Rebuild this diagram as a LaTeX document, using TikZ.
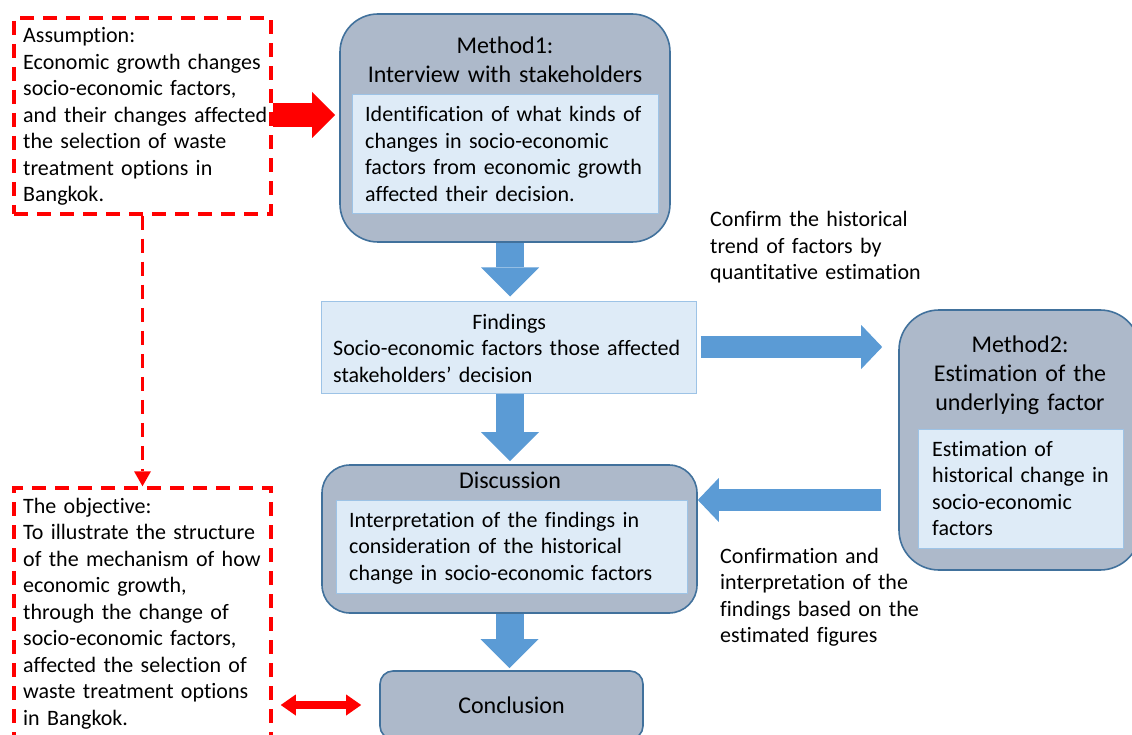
\documentclass[tikz,border=0pt]{standalone}
\usepackage{fontspec}
\setmainfont{Carlito}[Ligatures={CommonOff,ContextualOff}]
\usetikzlibrary{arrows.meta}
\definecolor{boxfill}{HTML}{ADB9CA}
\definecolor{boxline}{HTML}{41719C}
\definecolor{innerfill}{HTML}{DEEBF7}
\definecolor{innerline}{HTML}{9DC3E6}
\definecolor{flowblue}{HTML}{5B9BD5}

\begin{document}
\begin{tikzpicture}[x=1pt, y=-1pt,
		bigbox/.style={draw=boxline, fill=boxfill, line width=1.6pt},
		innerbox/.style={draw=innerline, fill=innerfill, line width=1pt},
		dashbox/.style={draw=red, line width=3.5pt, dash pattern=on 14pt off 9pt},
		bodytext/.style={font=\fontsize{22}{26.5}\selectfont, align=left, inner sep=0pt, anchor=base west, text width=380pt},
		titletext/.style={font=\fontsize{24}{29}\selectfont, align=center, inner sep=0pt, anchor=base, text width=320pt},
		downflow/.style={draw=flowblue, line width=28pt, -{Triangle[length=29pt, width=58pt, line width=0pt]}},
		sideflow/.style={draw=flowblue, line width=22pt, -{Triangle[length=21pt, width=44pt, line width=0pt]}},
		redflow/.style={draw=red, line width=24pt, -{Triangle[length=23pt, width=46pt, line width=0pt]}},
		redlink/.style={draw=red, line width=8pt, {Triangle[length=15pt, width=21pt, line width=0pt]}-{Triangle[length=15pt, width=21pt, line width=0pt]}},
		redpath/.style={draw=red, line width=3.5pt, dash pattern=on 14pt off 9pt, -{Triangle[length=15pt, width=17pt, line width=0pt]}}]
	\clip (0,0) rectangle (1132,735);

	\node[dashbox, minimum width=257pt, minimum height=196pt] (ass) at (142.5,116) {};
	\node[bodytext] (asstext) at (23,43) {Assumption:\\Economic growth changes\\socio-economic factors,\\and their changes affected\\the selection of waste\\treatment options in\\Bangkok.};

	\node[dashbox, minimum width=257pt, minimum height=254pt] (obj) at (142.5,615) {};
	\node[bodytext] (objtext) at (23,513) {The objective:\\To illustrate the structure\\of the mechanism of how\\economic growth,\\through the change of\\socio-economic factors,\\affected the selection of\\waste treatment options\\in Bangkok.};

	\node[bigbox, rounded corners=38pt, minimum width=330pt, minimum height=228pt] (m1) at (505,128) {};
	\node[titletext] (m1title) at (505,54) {Method1:\\Interview with stakeholders};
	\node[innerbox, minimum width=306pt, minimum height=119pt] (m1in) at (505,154.5) {};
	\node[bodytext] (m1text) at (365,122) {Identification of what kinds of\\changes in socio-economic\\factors from economic growth\\affected their decision.};

	\node[innerbox, minimum width=375pt, minimum height=92pt] (find) at (508.5,347) {};
	\node[bodytext, text width=352pt] (findtext) at (333,329) {\makebox[\linewidth]{Findings}\\Socio-economic factors those affected\\stakeholders’ decision};

	\node[bigbox, rounded corners=40pt, minimum width=241pt, minimum height=260pt] (m2) at (1019.5,440) {};
	\node[titletext, text width=230pt] (m2title) at (1020,352) {Method2:\\Estimation of the\\underlying factor};
	\node[innerbox, minimum width=205pt, minimum height=119pt] (m2in) at (1020.5,488.5) {};
	\node[bodytext] (m2text) at (932,456) {Estimation of\\historical change in\\socio-economic\\factors};

	\node[bigbox, rounded corners=28pt, minimum width=375pt, minimum height=148pt] (dis) at (509.5,539) {};
	\node[titletext] (distitle) at (510,488) {Discussion};
	\node[innerbox, minimum width=351pt, minimum height=93pt] (disin) at (511.5,546.5) {};
	\node[bodytext] (distext) at (349,527) {Interpretation of the findings in\\consideration of the historical\\change in socio-economic factors};

	\node[bigbox, rounded corners=13pt, minimum width=263pt, minimum height=68pt, font=\fontsize{24}{29}\selectfont] (con) at (511.5,705) {Conclusion};

	\node[bodytext] (confirm) at (710,227) {Confirm the historical\\trend of factors by\\quantitative estimation};
	\node[bodytext] (confirmation) at (720,563) {Confirmation and\\interpretation of the\\findings based on the\\estimated figures};

	\draw[redflow, shorten >=4pt] ([yshift=1pt]ass.east) -- ([yshift=1pt]ass.east -| m1.west);
	\draw[redpath] (ass.south) -- (obj.north);
	\draw[redlink, shorten <=8pt, shorten >=18pt] (con.west -| obj.east) -- (con.west);
	\draw[downflow, shorten >=4pt] ([xshift=5pt]m1.south) -- ([xshift=5pt]m1.south |- find.north);
	\draw[downflow, shorten >=3pt] ([xshift=1.5pt]find.south) -- ([xshift=1.5pt]find.south |- dis.north);
	\draw[downflow, shorten >=2pt] (dis.south) -- (dis.south |- con.north);
	\draw[sideflow, shorten <=4pt, shorten >=16pt] (find.east) -- (find.east -| m2.west);
	\draw[sideflow, shorten <=17pt] ([yshift=39pt]dis.east -| m2.west) -- ([yshift=39pt]dis.east);
\end{tikzpicture}
\end{document}
